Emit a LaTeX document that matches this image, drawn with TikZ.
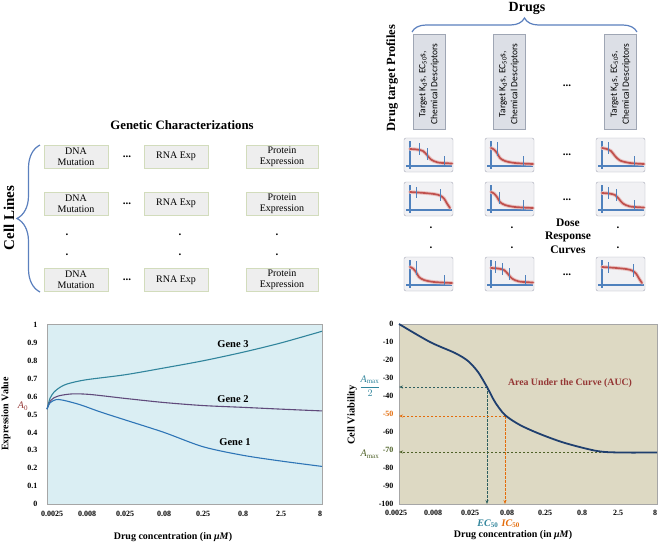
\documentclass[tikz,border=0pt]{standalone}
\usepackage{fontspec}
\setmainfont{Liberation Serif}
\newfontfamily\calib{Carlito}
\usetikzlibrary{decorations.pathreplacing,arrows.meta}
\definecolor{bracec}{HTML}{5B80BE}
\definecolor{gbox}{HTML}{EEEEEE}
\definecolor{gboxborder}{HTML}{D2DCBC}
\definecolor{tbox}{HTML}{DCDFE6}
\definecolor{tboxborder}{HTML}{9FA6B4}
\definecolor{dbox}{HTML}{F1F1F4}
\definecolor{dboxborder}{HTML}{A8AAB8}
\definecolor{axblue}{HTML}{4F81BD}
\definecolor{cred}{HTML}{C0504D}
\definecolor{chartblue}{HTML}{DAEEF3}
\definecolor{chartkhaki}{HTML}{DDD9C3}
\definecolor{gthree}{HTML}{31859C}
\definecolor{gtwo}{HTML}{604A7B}
\definecolor{gone}{HTML}{2E75B6}
\definecolor{darkred}{HTML}{953735}
\definecolor{navyc}{HTML}{1F3F6E}
\definecolor{tealdash}{HTML}{2E5F5F}
\definecolor{orng}{HTML}{E46C0A}
\definecolor{olivec}{HTML}{4F6228}
\definecolor{tealtxt}{HTML}{31859C}
\newcommand\dosebox[4]{%
\begin{scope}[shift={(#1,#2)}]
\draw[dboxborder, fill=dbox, rounded corners=2pt] (0,0) rectangle (49,34);
\draw[axblue, line width=1.1pt] (6,3) -- (6,31);
\draw[axblue, line width=1.1pt] (2,28) -- (48,28);
\draw[cred!35, line width=3.6pt, line cap=round] plot[smooth] coordinates {#3};
\draw[cred, line width=1.7pt, line cap=round] plot[smooth] coordinates {#3};
#4
\end{scope}}
\begin{document}
\begin{tikzpicture}[x=1pt,y=-1pt,
  gboxst/.style={draw=gboxborder, fill=gbox, minimum height=23pt, inner sep=1pt, align=center, font=\fontsize{10}{11}\selectfont},
  tboxst/.style={draw=tboxborder, fill=tbox, minimum width=32pt, minimum height=95pt, inner sep=0pt},
  tick/.style={axblue, line width=1pt},
  dots/.style={font=\bfseries\fontsize{11}{12}\selectfont},
  axlbl/.style={font=\bfseries\fontsize{8}{9}\selectfont},
  ttl/.style={font=\bfseries\fontsize{10}{11}\selectfont},
  dsh/.style={dashed, dash pattern=on 2.5pt off 1.5pt, line width=0.9pt}]
\fill[white] (0,0) rectangle (658,544);
\useasboundingbox (0,0) rectangle (658,544);

% ---------- Genetic characterizations ----------
\node[font=\bfseries\fontsize{12.8}{14}\selectfont] (gc) at (182,125) {Genetic Characterizations};
\foreach \r/\yy in {1/156.5, 2/203.5, 3/280} {
  \node[gboxst, minimum width=64pt] (dna\r) at (76,\yy) {DNA\\Mutation};
  \node[gboxst, minimum width=64pt] (rna\r) at (176,\yy) {RNA Exp};
  \node[gboxst, minimum width=72pt] (pro\r) at (282,\yy) {Protein\\Expression};
  \node[dots] (gd\r) at (127,\yy) {...};
}
\foreach \xx/\n in {67/a, 180/b, 277/c} {
  \node[dots] (gv1\n) at (\xx,235) {.};
  \node[dots] (gv2\n) at (\xx,255) {.};
}
\draw[bracec, line width=1.2pt, decorate, decoration={brace, amplitude=23pt}] (40,292) -- (40,145);
\node[rotate=90, font=\bfseries\fontsize{15}{17}\selectfont] (cl) at (9,218) {Cell Lines};

% ---------- Drugs ----------
\node[font=\bfseries\fontsize{14}{16}\selectfont] (drugs) at (527,8) {Drugs};
\draw[bracec, line width=1.2pt, decorate, decoration={brace, amplitude=14pt}] (412,32) -- (637,32);
\node[rotate=90, font=\bfseries\fontsize{12.5}{14}\selectfont] (dtp) at (392,78) {Drug target Profiles};
\foreach \xx/\n in {429/1, 509/2, 620.5/3} {
  \node[tboxst] (tb\n) at (\xx,81.5) {};
  \node[rotate=90, align=center, font=\calib\fontsize{9.5}{12}\selectfont] (tt\n) at (\xx,84) {Target K\textsubscript{d}s, EC\textsubscript{50}s,\\Chemical Descriptors};
}
\node[dots] (td) at (567,86) {...};

% dose response boxes
\def\curA{(6,11) (13,11.5) (19,13) (23,17) (27,21.5) (34,24.5) (48,25.5)}
\def\curB{(6,10) (9,11.5) (12,15) (15,20) (20,23) (30,25) (48,26)}
\def\curC{(6,10) (11,11) (15,13) (19,18) (24,22.5) (34,25) (48,26)}
\def\curD{(6,10) (18,10.8) (30,12) (36,13.5) (40,16.5) (43,21.5) (46,26)}
\dosebox{404}{138}{\curA}{\draw[tick] (15,5)--(15,17); \draw[tick] (23,10)--(23,22); \draw[tick] (40,18)--(40,28);}
\dosebox{485}{138}{\curB}{\draw[tick] (12,4)--(12,18); \draw[tick] (38,18)--(38,28);}
\dosebox{596}{138}{\curC}{\draw[tick] (12,4)--(12,16); \draw[tick] (38,18)--(38,28);}
\dosebox{404}{182}{\curD}{\draw[tick] (12,5)--(12,16); \draw[tick] (36,7)--(36,19);}
\dosebox{485}{182}{\curB}{\draw[tick] (14,10)--(14,22); \draw[tick] (38,18)--(38,28);}
\dosebox{596}{182}{\curA}{\draw[tick] (12,5)--(12,17); \draw[tick] (20,7)--(20,19); \draw[tick] (38,18)--(38,28);}
\dosebox{404}{257}{\curB}{\draw[tick] (12,4)--(12,18); \draw[tick] (40,18)--(40,28);}
\dosebox{485}{257}{\curA}{\draw[tick] (10,4)--(10,16); \draw[tick] (17,6)--(17,18); \draw[tick] (24,11)--(24,23); \draw[tick] (40,18)--(40,28);}
\dosebox{596}{257}{\curD}{\draw[tick] (12,5)--(12,16); \draw[tick] (37,7)--(37,20);}
\foreach \yy/\n in {155/1, 200/2, 275/3} { \node[dots] (dd\n) at (567,\yy) {...}; }
\foreach \xx/\n in {431/a, 512/b, 618/c} {
  \node[dots] (dv1\n) at (\xx,228) {.};
  \node[dots] (dv2\n) at (\xx,248) {.};
}
\node[align=center, font=\bfseries\fontsize{11.5}{13.5}\selectfont] (drc) at (568,236) {Dose\\Response\\Curves};

% ---------- left chart ----------
\draw[gray!70, fill=chartblue] (47,324) rectangle (322,504);
\foreach \v/\t in {0/0,1/0.1,2/0.2,3/0.3,4/0.4,5/0.5,6/0.6,7/0.7,8/0.8,9/0.9,10/1} {
  \node[axlbl, anchor=east] (ly\v) at (41,{504-17.9*\v}) {\t};
}
\foreach \xx/\t [count=\i] in {52/0.0025, 87/0.008, 125/0.025, 164/0.08, 203/0.25, 243/0.8, 281/2.5, 320/8} {
  \node[axlbl] (lx\i) at (\xx,514) {\t};
}
\node[ttl] (lxt) at (173,537) {Drug concentration (in \textit{μM})};
\node[ttl, rotate=90] (lyt) at (6,414) {Expression Value};
\node[text=darkred, font=\fontsize{10}{11}\selectfont] (a0) at (23,406) {\textit{A}\textsubscript{0}};
\draw[gthree, line width=1.1pt] plot[smooth] coordinates {(47,{504-179*0.53}) (50,{504-179*0.59}) (54,{504-179*0.625}) (60,{504-179*0.652}) (68,{504-179*0.672}) (86,{504-179*0.694}) (125,{504-179*0.722}) (164,{504-179*0.76}) (203,{504-179*0.80}) (243,{504-179*0.848}) (281,{504-179*0.90}) (322,{504-179*0.965})};
\draw[gtwo, line width=1.1pt] plot[smooth] coordinates {(47,{504-179*0.53}) (51,{504-179*0.58}) (58,{504-179*0.603}) (72,{504-179*0.615}) (90,{504-179*0.612}) (125,{504-179*0.59}) (164,{504-179*0.567}) (203,{504-179*0.55}) (243,{504-179*0.54}) (281,{504-179*0.53}) (322,{504-179*0.52})};
\draw[gone, line width=1.1pt] plot[smooth] coordinates {(47,{504-179*0.53}) (50,{504-179*0.565}) (56,{504-179*0.583}) (63,{504-179*0.58}) (80,{504-179*0.555}) (100,{504-179*0.515}) (125,{504-179*0.47}) (164,{504-179*0.40}) (203,{504-179*0.32}) (243,{504-179*0.272}) (281,{504-179*0.24}) (322,{504-179*0.21})};
\node[font=\bfseries\fontsize{10.5}{12}\selectfont] (g3) at (233,344) {Gene 3};
\node[font=\bfseries\fontsize{10.5}{12}\selectfont] (g2) at (233,399) {Gene 2};
\node[font=\bfseries\fontsize{10.5}{12}\selectfont] (g1) at (235,442) {Gene 1};

% ---------- right chart ----------
\draw[gray!70, fill=chartkhaki] (399,324) rectangle (657,504);
\foreach \i/\t/\c in {0/0/black,1/-10/black,2/-20/black,3/-30/black,4/-40/black,5/-50/orng,6/-60/black,7/-70/olivec,8/-80/black,9/-90/black,10/-100/black} {
  \node[axlbl, anchor=east, text=\c] (ry\i) at (397,{324+18*\i}) {\t};
}
\foreach \xx/\t [count=\i] in {396/0.0025, 433/0.008, 470/0.025, 507/0.08, 545/0.25, 582/0.8, 618/2.5, 655/8} {
  \node[axlbl] (rx\i) at (\xx,513) {\t};
}
\node[ttl] (rxt) at (513,535) {Drug concentration (in \textit{μM})};
\node[font=\bfseries\fontsize{10.5}{12}\selectfont, rotate=90] (ryt) at (352,415) {Cell Viability};
\node[text=tealtxt, font=\fontsize{10}{11}\selectfont] (amax2) at (370,386) {$\displaystyle\frac{\mathit{A}_{\max}}{2}$};
\node[text=olivec, font=\fontsize{10}{11}\selectfont] (amax) at (370,454) {\textit{A}\textsubscript{max}};
\node[text=darkred, font=\bfseries\fontsize{9.8}{11}\selectfont] (auc) at (570,383) {Area Under the Curve (AUC)};
\coordinate (ecp) at (487,387);
\coordinate (icp) at (505,416);
\coordinate (amp) at (657,452);
\coordinate (ecax) at (399,387);
\coordinate (icax) at (399,416);
\coordinate (amax0) at (399,452);
\coordinate (ecb) at (487,504);
\coordinate (icb) at (505,504);
\draw[tealdash, dsh, -{Stealth[length=4pt,width=3pt]}] (ecp) -- (ecax);
\draw[tealdash, dsh, -{Stealth[length=4pt,width=3pt]}] (ecp) -- (ecb);
\draw[orng, dsh, -{Stealth[length=4pt,width=3pt]}] (icp) -- (icax);
\draw[orng, dsh, -{Stealth[length=4pt,width=3pt]}] (icp) -- (icb);
\draw[olivec, dsh, -{Stealth[length=4pt,width=3pt]}] (amp) -- (amax0);
\draw[navyc, line width=1.8pt] plot[smooth] coordinates {(399,324) (430,342) (455,353) (468,361) (478,372) (487,387) (495,402) (505,415) (520,425) (540,434) (565,443) (597,451) (620,452.5) (657,452.5)};
\node[anchor=east, inner sep=1pt, text=tealtxt, font=\bfseries\fontsize{10}{11}\selectfont] (ec50) at (499.5,523.5) {\textit{EC}\textsubscript{50}};
\node[anchor=west, inner sep=1pt, text=orng, font=\bfseries\fontsize{10}{11}\selectfont] (ic50) at (500.5,523.5) {\textit{IC}\textsubscript{50}};
\end{tikzpicture}
\end{document}
